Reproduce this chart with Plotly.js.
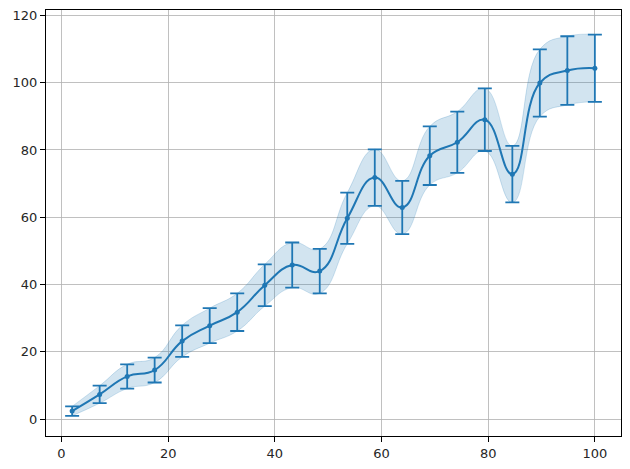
<!DOCTYPE html>
<html>
<head>
<meta charset="utf-8">
<script src="https://cdn.plot.ly/plotly-3.0.1.min.js"></script>
<style>html,body{margin:0;padding:0;background:#fff}#chart{width:630px;height:469px}</style>
</head>
<body>
<div id="chart"></div>
<script>
var xValues = [2, 7.16, 12.32, 17.47, 22.63, 27.79, 32.95, 38.11, 43.26, 48.42, 53.58, 58.74, 63.89, 69.05, 74.21, 79.37, 84.53, 89.68, 94.84, 100];
var yValues = [2.4, 7.35, 12.7, 14.6, 23.2, 27.8, 31.8, 39.8, 45.8, 44.0, 59.7, 71.8, 62.9, 78.3, 82.3, 89.0, 72.8, 99.9, 103.6, 104.3];
var yErrors = [1.4, 2.6, 3.6, 3.7, 4.7, 5.2, 5.6, 6.2, 6.7, 6.6, 7.6, 8.4, 7.9, 8.7, 9.1, 9.3, 8.4, 10.0, 10.2, 10.0];
var xTicks = [0, 20, 40, 60, 80, 100];
var yTicks = [0, 20, 40, 60, 80, 100, 120];

var upper = yValues.map(function(v, i){ return v + yErrors[i]; });
var lower = yValues.map(function(v, i){ return v - yErrors[i]; });
var blue = '#1f77b4';
var band = 'rgba(31,119,180,0.2)';

var traces = [
  {x: xValues, y: lower, mode: 'lines', line: {shape: 'spline', smoothing: 1.3, color: band, width: 1}, hoverinfo: 'skip', showlegend: false},
  {x: xValues, y: upper, mode: 'lines', fill: 'tonexty', fillcolor: band, line: {shape: 'spline', smoothing: 1.3, color: band, width: 1}, hoverinfo: 'skip', showlegend: false},
  {x: xValues, y: yValues, mode: 'lines', line: {shape: 'spline', smoothing: 1.3, color: blue, width: 2}, showlegend: false},
  {x: xValues, y: yValues, mode: 'markers', marker: {color: blue, size: 5},
   error_y: {type: 'data', array: yErrors, visible: true, color: blue, thickness: 1.8, width: 7}, showlegend: false}
];

var axisCommon = {
  showline: true, mirror: true, linecolor: 'black', linewidth: 1,
  ticks: 'outside', ticklen: 5, tickcolor: 'black', tickwidth: 1,
  showgrid: true, gridcolor: '#b0b0b0', gridwidth: 0.8, zeroline: false,
  tickfont: {family: 'DejaVu Sans', size: 13, color: '#262626'}
};

var layout = {
  width: 630, height: 469,
  margin: {l: 46, r: 9, t: 10, b: 33},
  paper_bgcolor: 'white', plot_bgcolor: 'white',
  xaxis: Object.assign({}, axisCommon, {range: [-2.9, 104.9], tickvals: xTicks, ticktext: xTicks.map(String)}),
  yaxis: Object.assign({}, axisCommon, {range: [-5.0, 121.6], tickvals: yTicks, ticktext: yTicks.map(String)}),
  showlegend: false
};

Plotly.newPlot('chart', traces, layout, {staticPlot: true});
</script>
</body>
</html>
